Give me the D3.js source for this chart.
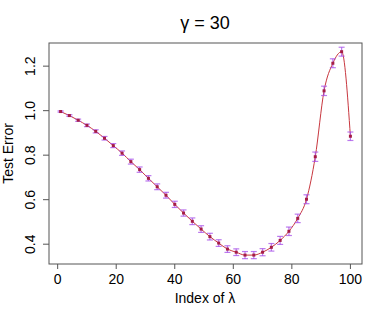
<!DOCTYPE html>
<html>
<head>
<meta charset="utf-8">
<script src="https://cdn.jsdelivr.net/npm/d3@7"></script>
<style>
  body { margin: 0; background: #fff; }
  text { font-family: "Liberation Sans", Arial, sans-serif; fill: #000; }
</style>
</head>
<body>
<div id="chart"></div>
<script>
// data
var lambdaIndex = [1,4,7,10,13,16,19,22,25,28,31,34,37,40,43,46,49,52,55,58,61,64,67,70,73,76,79,82,85,88,91,94,97,100];
var testError = [0.996,0.978,0.957,0.934,0.907,0.876,0.843,0.809,0.771,0.735,0.696,0.658,0.620,0.579,0.540,0.503,0.468,0.434,0.405,0.378,0.364,0.351,0.351,0.364,0.386,0.417,0.458,0.516,0.602,0.793,1.089,1.213,1.265,0.885];
var errHalf = [0.003,0.004,0.005,0.006,0.007,0.008,0.009,0.010,0.011,0.012,0.012,0.013,0.013,0.014,0.014,0.015,0.015,0.015,0.015,0.015,0.015,0.016,0.016,0.016,0.017,0.018,0.019,0.019,0.020,0.021,0.021,0.020,0.020,0.019];
var xTicks = [0,20,40,60,80,100];
var yTicks = [0.4,0.6,0.8,1.0,1.2];

var W = 387, H = 318;
var box = {left: 49, right: 362, top: 43, bottom: 264};

var svg = d3.select("#chart").append("svg")
  .attr("width", W).attr("height", H);

var x = d3.scaleLinear().domain([-2.96, 103.96]).range([box.left, box.right]);
var y = d3.scaleLinear().domain([0.311, 1.304]).range([box.bottom, box.top]);

var data = lambdaIndex.map(function(d, i) {
  return {i: d, v: testError[i], e: errHalf[i]};
});

// plot frame
svg.append("rect")
  .attr("x", box.left).attr("y", box.top)
  .attr("width", box.right - box.left).attr("height", box.bottom - box.top)
  .attr("fill", "none").attr("stroke", "#555").attr("stroke-width", 1);

// x axis ticks
var xa = svg.append("g");
xa.selectAll("line").data(xTicks).enter().append("line")
  .attr("x1", function(d) { return x(d); }).attr("x2", function(d) { return x(d); })
  .attr("y1", box.bottom).attr("y2", box.bottom + 5)
  .attr("stroke", "#555");
xa.selectAll("text").data(xTicks).enter().append("text")
  .attr("x", function(d) { return x(d); }).attr("y", 284)
  .attr("text-anchor", "middle").style("font-size", "14px")
  .text(function(d) { return d; });

// y axis ticks
var ya = svg.append("g");
ya.selectAll("line").data(yTicks).enter().append("line")
  .attr("y1", function(d) { return y(d); }).attr("y2", function(d) { return y(d); })
  .attr("x1", box.left - 6).attr("x2", box.left)
  .attr("stroke", "#555");
ya.selectAll("text").data(yTicks).enter().append("text")
  .attr("transform", function(d) { return "translate(35," + y(d) + ") rotate(-90)"; })
  .attr("text-anchor", "middle").style("font-size", "14px")
  .text(function(d) { return d.toFixed(1); });

// titles
svg.append("text").attr("x", 205).attr("y", 29)
  .attr("text-anchor", "middle").style("font-size", "18px")
  .text("γ = 30");
svg.append("text").attr("x", 205).attr("y", 303)
  .attr("text-anchor", "middle").style("font-size", "14px")
  .text("Index of  λ");
svg.append("text")
  .attr("transform", "translate(13," + ((box.top + box.bottom) / 2) + ") rotate(-90)")
  .attr("text-anchor", "middle").style("font-size", "14px")
  .text("Test Error");

// curve
var line = d3.line()
  .x(function(d) { return x(d.i); })
  .y(function(d) { return y(d.v); })
  .curve(d3.curveMonotoneX);
svg.append("path").datum(data)
  .attr("d", line)
  .attr("fill", "none").attr("stroke", "#c8373f").attr("stroke-width", 1);

// error bars
var eb = svg.append("g").attr("stroke", "#a64de8").attr("stroke-opacity", 0.75).attr("stroke-width", 1.2);
eb.selectAll(".v").data(data).enter().append("line")
  .attr("x1", function(d) { return x(d.i); }).attr("x2", function(d) { return x(d.i); })
  .attr("y1", function(d) { return y(d.v - d.e); }).attr("y2", function(d) { return y(d.v + d.e); });
eb.selectAll(".t").data(data).enter().append("line")
  .attr("x1", function(d) { return x(d.i) - 3; }).attr("x2", function(d) { return x(d.i) + 3; })
  .attr("y1", function(d) { return y(d.v + d.e); }).attr("y2", function(d) { return y(d.v + d.e); });
eb.selectAll(".b").data(data).enter().append("line")
  .attr("x1", function(d) { return x(d.i) - 3; }).attr("x2", function(d) { return x(d.i) + 3; })
  .attr("y1", function(d) { return y(d.v - d.e); }).attr("y2", function(d) { return y(d.v - d.e); });

// points
svg.selectAll(".pt").data(data).enter().append("rect")
  .attr("x", function(d) { return x(d.i) - 1.5; })
  .attr("y", function(d) { return y(d.v) - 1.5; })
  .attr("width", 3).attr("height", 3)
  .attr("fill", "#a51d45");
</script>
</body>
</html>
